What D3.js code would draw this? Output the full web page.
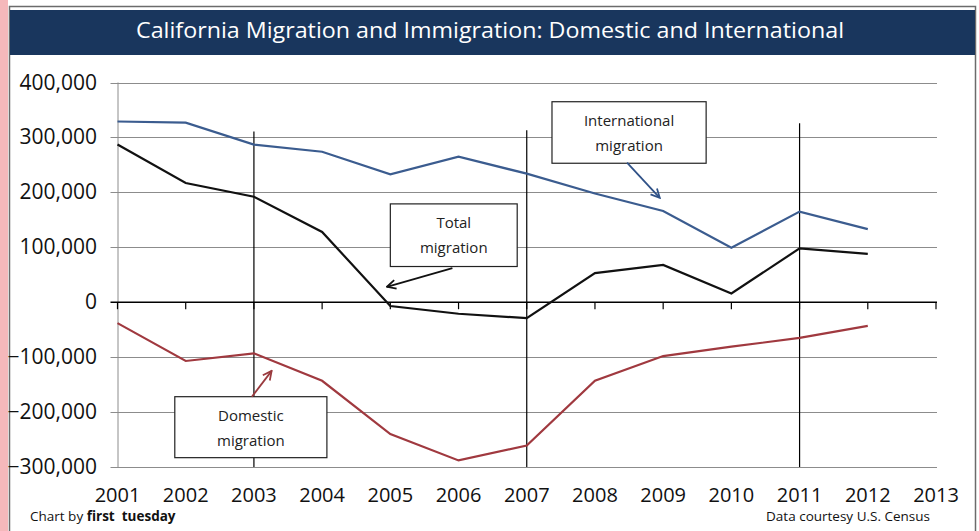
<!DOCTYPE html>
<html>
<head>
<meta charset="utf-8">
<script src="https://cdn.jsdelivr.net/npm/d3@7"></script>
<style>
  body { margin: 0; background: #fff; }
  svg { display: block; font-family: "Open Sans", sans-serif; }
</style>
</head>
<body>
<div id="chart"></div>
<script>
// data
const years = [2001, 2002, 2003, 2004, 2005, 2006, 2007, 2008, 2009, 2010, 2011, 2012];
const international = [329000, 327000, 287000, 274000, 233000, 265000, 234000, 198000, 166000, 99000, 165000, 133000];
const total = [287000, 217000, 192000, 128000, -7000, -21000, -29000, 53000, 68000, 16000, 98000, 88000];
const domestic = [-38000, -107000, -93000, -143000, -240000, -288000, -261000, -143000, -98000, -81000, -65000, -43000];
const tickYears = d3.range(2001, 2014);
const yTicks = [400000, 300000, 200000, 100000, 0, -100000, -200000, -300000];
const markerYears = [2003, 2007, 2011];
const markerTops = [311000, 313000, 326000];

const W = 979, H = 531;
const svg = d3.select("#chart").append("svg").attr("width", W).attr("height", H);

const x = d3.scaleLinear().domain([2001, 2013]).range([117.5, 936]);
const y = d3.scaleLinear().domain([-300000, 400000]).range([467, 82.5]);

// frame
svg.append("rect").attr("x", 0).attr("y", 0).attr("width", 8).attr("height", H).attr("fill", "#f5b8bb");
svg.append("rect").attr("x", 9.5).attr("y", 6.5).attr("width", 966).attr("height", H + 10)
  .attr("fill", "#fff").attr("stroke", "#6b6b6b").attr("stroke-width", 1.5);
svg.append("rect").attr("x", 10).attr("y", 10).attr("width", 965).attr("height", 45).attr("fill", "#19365d");
svg.append("text").attr("x", 490).attr("y", 38).attr("text-anchor", "middle")
  .attr("fill", "#fff").attr("font-size", 22)
  .attr("textLength", 708).attr("lengthAdjust", "spacingAndGlyphs")
  .text("California Migration and Immigration: Domestic and International");

// gridlines + y labels
const fmt = d3.format(",");
const grid = svg.append("g");
grid.selectAll("line").data(yTicks.filter(d => d !== 0)).join("line")
  .attr("x1", x(2001) - 7).attr("x2", x(2013) + 1)
  .attr("y1", d => Math.round(y(d)) + 0.5).attr("y2", d => Math.round(y(d)) + 0.5)
  .attr("stroke", "#8c8c8c").attr("stroke-width", 1);
svg.append("line").attr("x1", x(2001) + 0.5).attr("x2", x(2001) + 0.5)
  .attr("y1", y(400000)).attr("y2", y(-300000)).attr("stroke", "#8c8c8c");
svg.append("g").selectAll("text").data(yTicks).join("text")
  .attr("x", 97).attr("y", d => y(d) + 7).attr("text-anchor", "end")
  .attr("font-size", 21).attr("fill", "#111").text(d => fmt(d));

// zero axis with year ticks
svg.append("line").attr("x1", x(2001) - 7).attr("x2", x(2013) + 1)
  .attr("y1", y(0)).attr("y2", y(0)).attr("stroke", "#000").attr("stroke-width", 1.5);
svg.append("g").selectAll("line").data(tickYears).join("line")
  .attr("x1", d => x(d)).attr("x2", d => x(d)).attr("y1", y(0)).attr("y2", y(0) + 7)
  .attr("stroke", "#000").attr("stroke-width", 1.2);
svg.append("g").selectAll("text").data(tickYears).join("text")
  .attr("x", d => x(d)).attr("y", 502).attr("text-anchor", "middle")
  .attr("font-size", 20).attr("fill", "#111").text(d => d);

// marker verticals
svg.append("g").selectAll("line").data(markerYears).join("line")
  .attr("x1", d => x(d)).attr("x2", d => x(d))
  .attr("y1", (d, i) => y(markerTops[i])).attr("y2", y(-300000))
  .attr("stroke", "#000").attr("stroke-width", 1.2);

// series
const series = [
  { values: international, color: "#3b5c8f" },
  { values: total, color: "#111" },
  { values: domestic, color: "#a0393f" }
];
const line = d3.line().x((d, i) => x(years[i])).y(d => y(d));
svg.append("g").selectAll("path").data(series).join("path")
  .attr("d", d => line(d.values)).attr("fill", "none")
  .attr("stroke", d => d.color).attr("stroke-width", 2.2).attr("stroke-linejoin", "miter");

// annotations (in data units)
const notes = [
  { lines: ["International", "migration"], x0: 2007.37, x1: 2009.63, y0: 365000, y1: 253000,
    from: [2008.47, 254000], to: [2008.95, 190000], color: "#2f5187" },
  { lines: ["Total", "migration"], x0: 2005.0, x1: 2006.86, y0: 179000, y1: 65000,
    from: [2005.91, 62000], to: [2004.95, 28000], color: "#111" },
  { lines: ["Domestic", "migration"], x0: 2001.84, x1: 2004.07, y0: -172000, y1: -283000,
    from: [2002.97, -172000], to: [2003.26, -125000], color: "#9a3a3e" }
];
const defs = svg.append("defs");
notes.forEach((n, i) => {
  defs.append("marker").attr("id", "ah" + i).attr("viewBox", "0 0 10 10")
    .attr("refX", 9).attr("refY", 5).attr("markerWidth", 11).attr("markerHeight", 11)
    .attr("markerUnits", "userSpaceOnUse").attr("orient", "auto")
    .append("path").attr("d", "M1,1 L9,5 L1,9").attr("fill", "none")
    .attr("stroke", n.color).attr("stroke-width", 1.6);
});
const ng = svg.append("g").selectAll("g").data(notes).join("g");
ng.append("rect")
  .attr("x", d => x(d.x0)).attr("y", d => y(d.y0))
  .attr("width", d => x(d.x1) - x(d.x0)).attr("height", d => y(d.y1) - y(d.y0))
  .attr("fill", "#fff").attr("stroke", "#222").attr("stroke-width", 1.2);
ng.each(function(d, i) {
  const g = d3.select(this);
  const cx = (x(d.x0) + x(d.x1)) / 2, top = y(d.y0);
  d.lines.forEach((t, k) => {
    g.append("text").attr("x", cx).attr("y", top + 24 + k * 25)
      .attr("text-anchor", "middle").attr("font-size", 15).attr("fill", "#222").text(t);
  });
  g.append("line")
    .attr("x1", x(d.from[0])).attr("y1", y(d.from[1]))
    .attr("x2", x(d.to[0])).attr("y2", y(d.to[1]))
    .attr("stroke", d.color).attr("stroke-width", 1.8)
    .attr("marker-end", "url(#ah" + i + ")");
});

// footer
const foot = svg.append("text").attr("x", 30).attr("y", 521).attr("font-size", 13.5).attr("fill", "#111");
foot.append("tspan").text("Chart by ");
foot.append("tspan").attr("font-weight", "bold").text("first  tuesday").style("white-space", "pre");
svg.append("text").attr("x", 930).attr("y", 521).attr("text-anchor", "end")
  .attr("font-size", 13.5).attr("fill", "#111").text("Data courtesy U.S. Census");
</script>
</body>
</html>
